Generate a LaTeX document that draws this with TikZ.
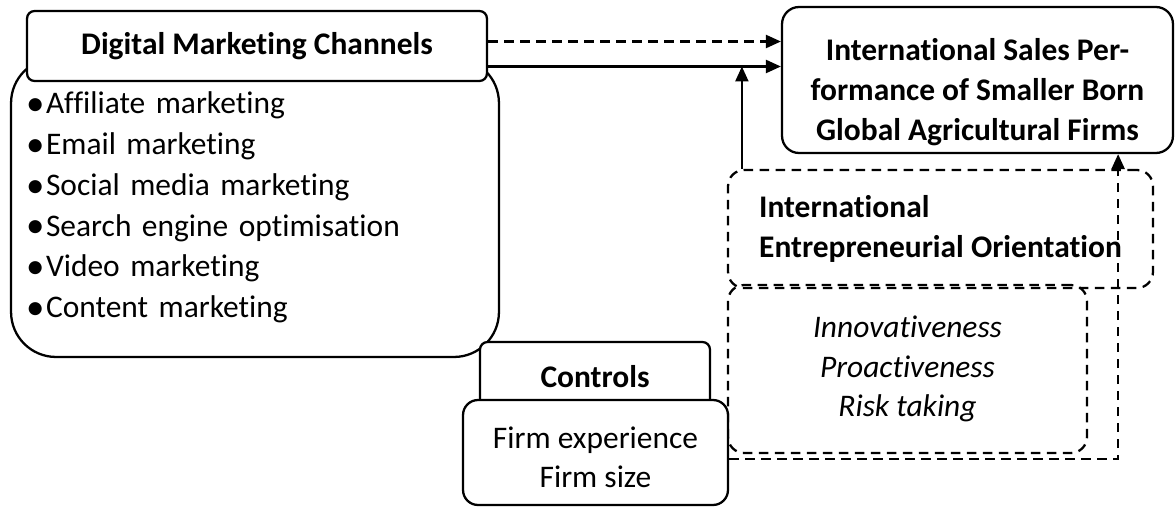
\documentclass[tikz,border=0pt]{standalone}
\usepackage{fontspec}
\setmainfont{Carlito}[Ligatures=NoCommon]
\usetikzlibrary{arrows.meta,positioning}
\newcommand{\bitem}[1]{\makebox[0.4cm][l]{\raisebox{-1pt}{\fontsize{21}{0}\selectfont\textbullet}}#1}
\tikzset{
  boxbase/.style={draw, line width=1.3pt, align=center, inner sep=0pt,
    font=\fontsize{17.9}{22.5}\selectfont},
  headbox/.style={boxbase, fill=white, rounded corners=1.5mm,
    font=\fontsize{17.9}{22.5}\selectfont\bfseries},
  listbox/.style={boxbase, rounded corners=9mm, align=left, inner xsep=0.3cm,
    text width=9.16cm, font=\fontsize{17.9}{23.2}\selectfont},
  salesbox/.style={boxbase, rounded corners=3.4mm,
    font=\fontsize{17.9}{22.7}\selectfont\bfseries},
  dashbox/.style={boxbase, rounded corners=3.2mm, dash pattern=on 0.19cm off 0.13cm},
  ieobox/.style={dashbox, align=left, font=\fontsize{17.9}{22.5}\selectfont\bfseries},
  dimbox/.style={dashbox, font=\fontsize{17.9}{22.5}\selectfont\itshape},
  ctrlbox/.style={boxbase, fill=white, rounded corners=3mm},
  arr/.style={-{Triangle[length=0.3cm,width=0.26cm]}, line width=1.3pt},
  dasharr/.style={arr, dash pattern=on 0.19cm off 0.13cm}
}

\begin{document}
\begin{tikzpicture}[x=0.02cm,y=-0.02cm]
  \useasboundingbox (0,0) rectangle (1176,507);

  % channels: list box behind, title box on top
  \node[listbox, minimum height=5.98cm] (dmclist) at (255,207.5) {%
    \bitem{Affiliate marketing}\\
    \bitem{Email marketing}\\
    \bitem{Social media marketing}\\
    \bitem{Search engine optimisation}\\
    \bitem{Video marketing}\\
    \bitem{Content marketing}};
  \node[headbox, minimum width=9.2cm, minimum height=1.4cm] (dmc) at (257,46) {Digital Marketing Channels};

  % outcome
  \node[salesbox, minimum width=7.82cm, minimum height=2.92cm] (sales) at (977.5,80)
    {\rule{0pt}{26pt}International Sales Per-\\formance of Smaller Born\\Global Agricultural Firms};

  % moderator and its dimensions
  \node[ieobox, minimum width=8.5cm, minimum height=2.36cm] (ieo) at (940.5,229)
    {International\\Entrepreneurial Orientation};
  \node[dimbox, minimum width=7.18cm, minimum height=3.36cm] (eodims) at (907.5,369)
    {Innovativeness\\Proactiveness\\Risk taking};

  % controls
  \node[headbox, minimum width=4.6cm, minimum height=1.4cm] (ctrl) at (595,377) {Controls};
  \node[ctrlbox, minimum width=5.3cm, minimum height=2.1cm] (ctrlbody) at (595.5,452.5)
    {\rule{0pt}{18pt}Firm experience\\Firm size};

  % connectors
  \coordinate (solidstart) at ([yshift=-0.41cm]dmc.east);
  \coordinate (riser) at ([xshift=0.3cm]ieo.north west);
  \coordinate (feedin) at ([xshift=-1.12cm]sales.south east);
  \draw[dasharr] ([yshift=0.09cm]dmc.east) -- ([yshift=0.09cm]dmc.east -| sales.west);
  \draw[arr] (solidstart) -- (solidstart -| sales.west);
  \draw[arr] (riser) -- (riser |- solidstart);
  \draw[dasharr] ([yshift=-0.13cm]ctrlbody.east) -| (feedin);
\end{tikzpicture}
\end{document}
